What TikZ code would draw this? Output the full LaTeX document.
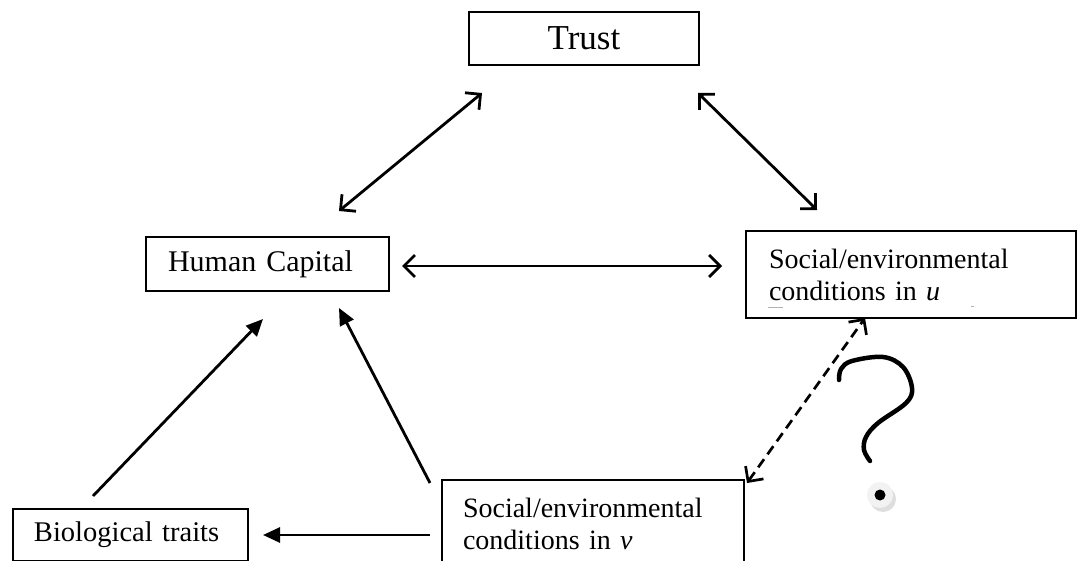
\documentclass[tikz,border=0pt]{standalone}
\usepackage{fontspec}
\setmainfont{Liberation Serif}
\usetikzlibrary{arrows.meta}
\begin{document}
\begin{tikzpicture}[x=1pt,y=-1pt,
  box/.style={draw, line width=2pt, rectangle, anchor=north west, align=left},
  twoway/.style={line width=2.8pt, {Straight Barb[length=11pt,width=22pt]}-{Straight Barb[length=11pt,width=22pt]}},
  oneway/.style={line width=2.8pt, -{Triangle[length=17pt,width=15pt]}},
  dashway/.style={line width=2.7pt, dash pattern=on 10pt off 6pt, {Straight Barb[length=11pt,width=22pt]}-{Straight Barb[length=11pt,width=22pt]}}
  ]
\useasboundingbox (0,0) rectangle (1077,561);
\fill[white] (0,0) rectangle (1077,561);

% boxes
\node[box, align=center, minimum width=230pt, minimum height=53pt, inner sep=0pt,
      font=\fontsize{35}{40}\selectfont] (trust) at (468,11) {Trust};
\node[box, text width=199pt, inner xsep=22pt, inner ysep=0pt, minimum height=54pt,
      font=\fontsize{30}{36}\selectfont] (hc) at (145,236) {Human Capital};
\node[box, text width=284pt, inner xsep=23pt, inner ysep=0pt, minimum height=87pt,
      font=\fontsize{28}{32}\selectfont] (su) at (745,230) {Social/environmental\\conditions in \textit{u}};
\node[box, text width=260pt, inner xsep=21pt, inner ysep=0pt, minimum height=87pt,
      font=\fontsize{28}{32}\selectfont] (sv) at (441,479) {Social/environmental\\conditions in \textit{v}};
\node[box, text width=193pt, inner xsep=21pt, inner ysep=0pt, minimum height=52pt,
      font=\fontsize{28.5}{34}\selectfont] (bio) at (12,508) {Biological traits};

% small grey marks in the u box
\draw[gray!60, line width=0.8pt] (768,307) -- (783,307);
\draw[gray!60, line width=0.8pt] (971,306) -- (974,306);

% connector end points
\coordinate (tl) at (482,93);
\coordinate (hcT) at (339,211);
\coordinate (tr) at (698,93);
\coordinate (suT) at (817,210);
\coordinate (hcR) at (402,266);
\coordinate (suL) at (722,266);
\coordinate (bioT) at (93,496);
\coordinate (hcB1) at (263,319);
\coordinate (svT) at (430,483);
\coordinate (hcB2) at (339,308);
\coordinate (svL) at (430,535);
\coordinate (bioR) at (263,535);
\coordinate (suB) at (865,318);
\coordinate (svR) at (747,483);

% connectors
\draw[twoway] (hcT) -- (tl);
\draw[twoway] (tr) -- (suT);
\draw[twoway] (hcR) -- (suL);
\draw[oneway] (bioT) -- (hcB1);
\draw[oneway] (svT) -- (hcB2);
\draw[oneway] (svL) -- (bioR);
\draw[dashway] (svR) -- (suB);

% question mark
\draw[line width=4.5pt, line cap=round, line join=round] plot[smooth, tension=0.6] coordinates
  {(839,380) (841,369) (852,361) (883,357) (903,367) (912,388) (906,403) (878,423) (866,437) (864,450) (870,461)};
\fill[gray!50, opacity=0.5] (883,499) circle (13);
\fill[gray!10] (880,495) circle (13);
\fill[black] (880,495) circle (5.5);
\end{tikzpicture}
\end{document}
